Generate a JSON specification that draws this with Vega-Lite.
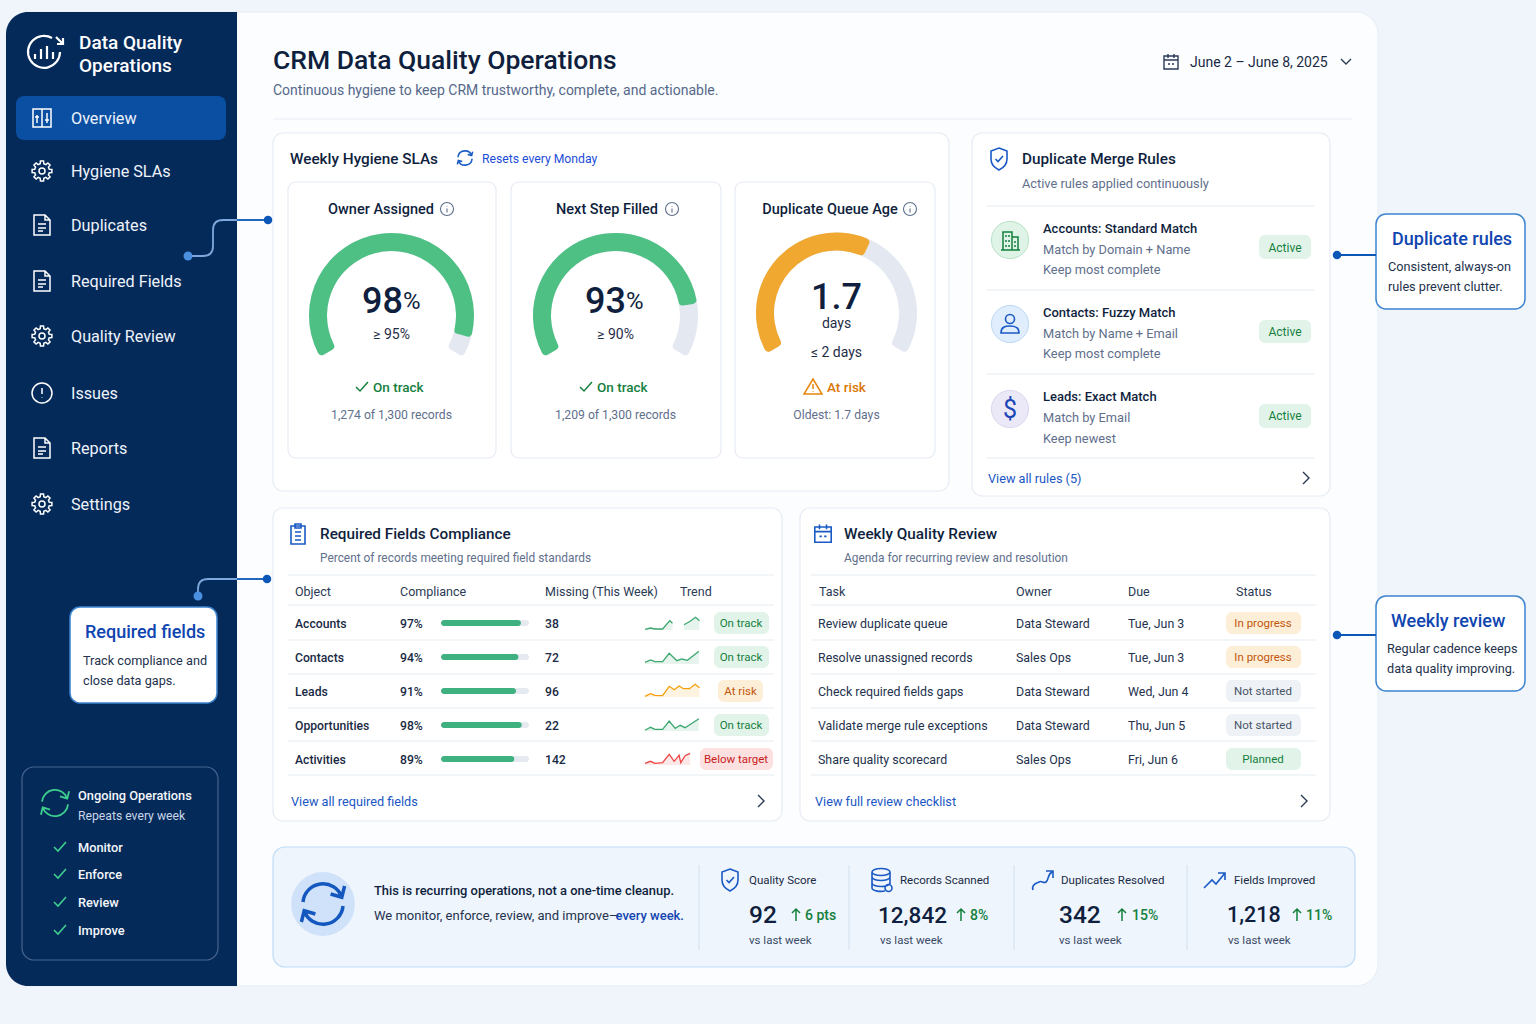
{
"$schema":"https://vega.github.io/schema/vega-lite/v6.json",
"width":1536,"height":1024,"padding":0,
"autosize":{"type":"fit","contains":"padding"},
"background":"#eff5fb",
"config":{"view":{"stroke":null},"text":{"font":"Roboto","align":"left","baseline":"middle","dy":1}},
"datasets":{
"trend":[
{"object":"Accounts","segment":"a","t":0,"v":0.7},{"object":"Accounts","segment":"a","t":10,"v":2},{"object":"Accounts","segment":"a","t":18,"v":1},{"object":"Accounts","segment":"a","t":32,"v":1},{"object":"Accounts","segment":"a","t":45,"v":9.3},{"object":"Accounts","segment":"a","t":50,"v":6.7},
{"object":"Accounts","segment":"b","t":71,"v":5.3},{"object":"Accounts","segment":"b","t":82,"v":8.7},{"object":"Accounts","segment":"b","t":92,"v":12.7},{"object":"Accounts","segment":"b","t":99,"v":9.3},
{"object":"Contacts","t":0,"v":1.7},{"object":"Contacts","t":10,"v":4},{"object":"Contacts","t":18,"v":2.3},{"object":"Contacts","t":32,"v":2.3},{"object":"Contacts","t":44,"v":10.7},{"object":"Contacts","t":58,"v":3.3},{"object":"Contacts","t":67,"v":5},{"object":"Contacts","t":77,"v":3.7},{"object":"Contacts","t":98,"v":12.7},
{"object":"Leads","t":0,"v":0.7},{"object":"Leads","t":10,"v":3.3},{"object":"Leads","t":18,"v":1.7},{"object":"Leads","t":32,"v":1.3},{"object":"Leads","t":44,"v":10.7},{"object":"Leads","t":53,"v":7.3},{"object":"Leads","t":62,"v":11},{"object":"Leads","t":70,"v":8.3},{"object":"Leads","t":81,"v":8.3},{"object":"Leads","t":91,"v":12.7},{"object":"Leads","t":99,"v":9.3},
{"object":"Opportunities","t":0,"v":0.7},{"object":"Opportunities","t":10,"v":3.7},{"object":"Opportunities","t":18,"v":1.7},{"object":"Opportunities","t":32,"v":1.7},{"object":"Opportunities","t":44,"v":10},{"object":"Opportunities","t":55,"v":2.7},{"object":"Opportunities","t":64,"v":5.7},{"object":"Opportunities","t":73,"v":3.3},{"object":"Opportunities","t":98,"v":12.3},
{"object":"Activities","t":0,"v":1.7},{"object":"Activities","t":10,"v":3.7},{"object":"Activities","t":18,"v":1.7},{"object":"Activities","t":32,"v":2.3},{"object":"Activities","t":44,"v":10.7},{"object":"Activities","t":53,"v":3.7},{"object":"Activities","t":62,"v":9.7},{"object":"Activities","t":65,"v":2.3},{"object":"Activities","t":73,"v":9.3},{"object":"Activities","t":82,"v":11.7}
]
},
"resolve":{"scale":{"x":"independent","y":"independent","theta":"independent"}},
"layer":[
{
"encoding":{
"x":{"field":"col","type":"quantitative","axis":null,"scale":{"type":"linear","nice":false,"zero":false,
"domain":[0,1,2,3,4,5,6,7,8,9,10,11,12,13,14,15,16,17,18,19,20,21,22,23,24,25,26,27,28,29,30,31,32,33,34,35,36,37,38,39,40,41,42,43,44,45,46,47,48,49,50,51,52,53,54,55,56,57,58,59,60,61,62,63,64,65,66,67,68,69,70,71,72,73,74,75,76,77,78,79,80,81,82,83,84,85,86,87,88,89,90,91,92,93,94,95,96,97,98,99,100,101,102,103,104,105,106,107,108,109,110,111,112,113,114,115,116,117,118,119,120,121,122,123,124,125,126,127,128,129,130,131,132,133,134,135,136,137],
"range":[6,237,1378,16,226,70,217,22,218,273,949,288,496,511,721,735,935,972,1330,782,800,1355,1376,1525,1352,987,1315,1259,1311,811,774,1316,441,529,714,769,718,763,700,773,1226,1301,699,849,1014,1187,79,71,85,83,78,290,482,381,607,830,403,626,391.5,615.5,836.5,373,597,827,1190,1022,1043,1285,988,320,295,400,545,680,741,291,844,819,1016,1128,1236,818,1263,815,374,1392,1388,1391,1387,749,805,878,970,880,900,1061,1059,1132,1234,1227,1306,1228,736,42,44,60,55,465,447,672,910,362,586,813,999,1010,1306,298,823,761,1304,323,730,881,1043,1215,796,961,1122,1297,1171,1346,1337,188,268,198,267,740.5]}},
"y":{"field":"row","type":"quantitative","axis":null,"scale":{"type":"linear","nice":false,"zero":false,
"domain":[0,1,2,3,4,5,6,7,8,9,10,11,12,13,14,15,16,17,18,19,20,21,22,23,24,25,26,27,28,29,30,31,32,33,34,35,36,37,38,39,40,41,42,43,44,45,46,47,48,49,50,51,52,53,54,55,56,57,58,59,60,61,62,63,64,65,66,67,68,69,70,71,72,73,74,75,76,77,78,79,80,81,82,83,84,85,86,87,88,89,90,91,92,93,94,95,96,97,98,99,100,101,102,103,104,105,106,107,108,109,110,111,112,113,114,115,116,117,118,119,120,121,122,123,124,125,126,127,128,129,130,131,132,133,134,135,136,137,138,139],
"range":[12,986,96,140,607,703,767,960,133,491,182,458,496,508,821,847,967,214,309,596,691,119,206,290,374,575,605,640,674,708,741,775,235,259,320,343,404,428,612,634,646,668,680,702,714,736,748,770,620,626,654,660,688,694,722,728,756,762,865,950,42,65,118,171,225,281,336,393,448,504,632,660,680,795,815,847,874,902,930,60,90,62,158,209,301,334,387,414,297,323,352,183,228,249,269,312,333,353,396,417,438,247,331,415,478,533,557,591,623,657,691,725,759,801,890,915,880,940,239,266,286,621,648,668,240,324,409,534,904,159,255,635,256,220,596,579,315.5,313,52,803]}}
},
"layer":[
{"encoding":{"x2":{"field":"col2"},"y2":{"field":"row2"}},"layer":[
{"data":{"values":[{"box":"panel","col":0,"col2":2,"row":0,"row2":1}]},"mark":{"type":"rect","fill":"#fbfdff","stroke":"#e6edf6","cornerRadius":22}},
{"data":{"values":[{"box":"sidebar","col":0,"col2":1,"row":0,"row2":1}]},"mark":{"type":"rect","fill":"#042a5a","cornerRadiusTopLeft":22,"cornerRadiusBottomLeft":22}},
{"data":{"values":[{"box":"nav active","col":3,"col2":4,"row":2,"row2":3}]},"mark":{"type":"rect","fill":"#0b4fa3","cornerRadius":8}},
{"data":{"values":[{"box":"ongoing","col":7,"col2":8,"row":6,"row2":7}]},"mark":{"type":"rect","fill":"#042a5a","stroke":"#46648d","strokeWidth":1.2,"cornerRadius":12}},
{"data":{"values":[{"box":"sla","col":9,"col2":10,"row":8,"row2":9},{"box":"rules","col":17,"col2":18,"row":8,"row2":12},{"box":"required","col":9,"col2":19,"row":13,"row2":14},{"box":"review","col":20,"col2":18,"row":13,"row2":14}]},"mark":{"type":"rect","fill":"#ffffff","stroke":"#e6ebf4","strokeWidth":1.2,"cornerRadius":10}},
{"data":{"values":[{"box":"owner","col":11,"col2":12,"row":10,"row2":11},{"box":"next","col":13,"col2":14,"row":10,"row2":11},{"box":"queue","col":15,"col2":16,"row":10,"row2":11}]},"mark":{"type":"rect","fill":"#ffffff","stroke":"#e6ebf4","strokeWidth":1.2,"cornerRadius":8}},
{"data":{"values":[{"box":"strip","col":9,"col2":21,"row":15,"row2":16}]},"mark":{"type":"rect","fill":"#eef5fd","stroke":"#bfdbf8","strokeWidth":1.2,"cornerRadius":12}},
{"data":{"values":[{"box":"required callout","col":5,"col2":6,"row":4,"row2":5},{"box":"rules callout","col":22,"col2":23,"row":17,"row2":18},{"box":"review callout","col":22,"col2":23,"row":19,"row2":20}]},"mark":{"type":"rect","fill":"#ffffff","stroke":"#3d84cf","strokeWidth":1.5,"cornerRadius":10}},
{"data":{"values":[{"col":27,"col2":28,"row":32,"row2":33},{"col":27,"col2":28,"row":34,"row2":35},{"col":27,"col2":28,"row":36,"row2":37},{"col":34,"col2":35,"row":38,"row2":39},{"col":34,"col2":35,"row":40,"row2":41},{"col":34,"col2":35,"row":44,"row2":45},{"col":40,"col2":41,"row":46,"row2":47}]},"mark":{"type":"rect","fill":"#e2f4ea","cornerRadius":6}},
{"data":{"values":[{"col":36,"col2":37,"row":42,"row2":43},{"col":40,"col2":41,"row":38,"row2":39},{"col":40,"col2":41,"row":40,"row2":41}]},"mark":{"type":"rect","fill":"#fdeed7","cornerRadius":6}},
{"data":{"values":[{"col":40,"col2":41,"row":42,"row2":43},{"col":40,"col2":41,"row":44,"row2":45}]},"mark":{"type":"rect","fill":"#eef1f5","cornerRadius":6}},
{"data":{"values":[{"col":38,"col2":39,"row":46,"row2":47}]},"mark":{"type":"rect","fill":"#fde0e0","cornerRadius":6}},
{"data":{"values":[{"col":32,"col2":33,"row":48,"row2":49},{"col":32,"col2":33,"row":50,"row2":51},{"col":32,"col2":33,"row":52,"row2":53},{"col":32,"col2":33,"row":54,"row2":55},{"col":32,"col2":33,"row":56,"row2":57}]},"mark":{"type":"rect","fill":"#e5e9f0","cornerRadius":3}}
]},
{"data":{"values":[{"col":9,"col2":24,"row":21},{"col":25,"col2":26,"row":22},{"col":25,"col2":26,"row":23},{"col":25,"col2":26,"row":24},{"col":25,"col2":26,"row":11},
{"col":11,"col2":30,"row":25},{"col":11,"col2":30,"row":26},{"col":11,"col2":30,"row":27},{"col":11,"col2":30,"row":28},{"col":11,"col2":30,"row":29},{"col":11,"col2":30,"row":30},{"col":11,"col2":30,"row":31},
{"col":29,"col2":31,"row":25},{"col":29,"col2":31,"row":26},{"col":29,"col2":31,"row":27},{"col":29,"col2":31,"row":28},{"col":29,"col2":31,"row":29},{"col":29,"col2":31,"row":30},{"col":29,"col2":31,"row":31}]},
"mark":{"type":"rule","color":"#e8edf3","strokeWidth":1.2},"encoding":{"x2":{"field":"col2"}}},
{"data":{"values":[{"col":42,"row":58,"row2":59},{"col":43,"row":58,"row2":59},{"col":44,"row":58,"row2":59},{"col":45,"row":58,"row2":59}]},"mark":{"type":"rule","color":"#d8e4f2","strokeWidth":1.2},"encoding":{"y2":{"field":"row2"}}},
{"data":{"values":[{"rule":"green","col":115,"row":124}]},"mark":{"type":"circle","size":1385,"opacity":1,"fill":"#dff3e6","stroke":"#b6e3c6","strokeWidth":1}},
{"data":{"values":[{"rule":"blue","col":115,"row":125}]},"mark":{"type":"circle","size":1385,"opacity":1,"fill":"#e0edfc","stroke":"#c0d8f5","strokeWidth":1}},
{"data":{"values":[{"rule":"violet","col":115,"row":126}]},"mark":{"type":"circle","size":1385,"opacity":1,"fill":"#ebe8f7","stroke":"#dcd7ef","strokeWidth":1}},
{"data":{"values":[{"col":121,"row":128}]},"mark":{"type":"circle","size":4072,"opacity":1,"fill":"#cfe2f9"}},
{
"encoding":{"shape":{"field":"icon","type":"nominal","legend":null,"scale":{
"domain":["gear","board","doc","alert","logo","cycle","check","info","warning","shield","building","user","chevron","down","calendar","clipboard","arrow","database","resolve","growth","link1","link2"],
"range":[
"M9.88 -1.56L9.88 1.56L7.28 1.81L6.43 3.86L8.09 5.88L5.88 8.09L3.86 6.43L1.81 7.28L1.56 9.88L-1.56 9.88L-1.81 7.28L-3.86 6.43L-5.88 8.09L-8.09 5.88L-6.43 3.86L-7.28 1.81L-9.88 1.56L-9.88 -1.56L-7.28 -1.81L-6.43 -3.86L-8.09 -5.88L-5.88 -8.09L-3.86 -6.43L-1.81 -7.28L-1.56 -9.88L1.56 -9.88L1.81 -7.28L3.86 -6.43L5.88 -8.09L8.09 -5.88L6.43 -3.86L7.28 -1.81ZM3 0A3 3 0 1 1 -3 0A3 3 0 1 1 3 0",
"M-9 -9H9V9H-9ZM0 -9V9M-5 -3V5M-7 -1H-3M5 -5V5M3 2H7",
"M-8 -10H3L8 -5V10H-8ZM3 -10V-5H8M-4 -1H4M-4 3H4M-4 6H1",
"M10 0A10 10 0 1 1 -10 0A10 10 0 1 1 10 0M0 -5V1M0 4.5V5",
"M8 -14A16 16 0 1 0 16 0M-9 7V2M-3 7V-3M3 7V-6M9 7V0M12 -15L19 -8M19 -14V-8H13",
"M-10 -1A10 10 0 0 1 9.4 -3.4M10.8 -9L9.4 -3.4L3.8 -5M10 1A10 10 0 0 1 -9.4 3.4M-10.8 9L-9.4 3.4L-3.8 5",
"M-6 0L-2 4L6 -5",
"M6.5 0A6.5 6.5 0 1 1 -6.5 0A6.5 6.5 0 1 1 6.5 0M0 -0.5V3.5M0 -3V-2.5",
"M0 -8L9 7H-9ZM0 -3V2M0 4.5V5",
"M0 -11L8 -8V0C8 6 4 9 0 11C-4 9 -8 6 -8 0V-8ZM-3.5 0L-1 2.5L4 -3",
"M-7 10V-8H2V10M2 -3H8V10M-9 10H10M-4 -5V-3M-1 -5V-3M-4 0V2M-1 0V2M-4 5V7M-1 5V7M5 1V3M5 5V7",
"M4.5 -5A4.5 4.5 0 1 1 -4.5 -5A4.5 4.5 0 1 1 4.5 -5M-9 9C-9 3 -5 2 0 2C5 2 9 3 9 9Z",
"M-3 -6L3 0L-3 6",
"M-5 -3L0 2L5 -3",
"M-7 -6H7V7H-7ZM-7 -2H7M-3 -8V-4M3 -8V-4M-3 2H-1M1 2H3",
"M-7 -8H7V10H-7ZM-3 -10H3V-6H-3ZM-3 -2H3M-3 2H3M-3 6H3",
"M0 6V-6M-4 -2L0 -6L4 -2",
"M-9 -8A9 3.5 0 1 1 9 -8A9 3.5 0 1 1 -9 -8M-9 -8V8A9 3.5 0 0 0 4 11M9 -8V4M-9 -3A9 3.5 0 0 0 9 -3M-9 3A9 3.5 0 0 0 9 3M11 8A3.5 3.5 0 1 1 4 8A3.5 3.5 0 1 1 11 8",
"M-10 10C-12 4 -6 3 -4 2C-1 0 0 4 3 2C6 0 4 -5 9 -8M3 -9H10V-2",
"M-11 8L-3 0L1 4L10 -7M3 -7H10V0",
"M0 0H15Q25 0 25 -10V-26Q25 -36 35 -36H49",
"M0 0V-7Q0 -17 10 -17H39"
]}}},
"layer":[
{"data":{"values":[{"icon":"board","col":103,"row":62},{"icon":"gear","col":103,"row":63},{"icon":"doc","col":103,"row":64},{"icon":"doc","col":103,"row":65},{"icon":"gear","col":103,"row":66},{"icon":"alert","col":103,"row":67},{"icon":"doc","col":103,"row":68},{"icon":"gear","col":103,"row":69}]},"mark":{"type":"point","filled":false,"opacity":1,"size":4,"color":"#ffffff","strokeWidth":1.5}},
{"data":{"values":[{"icon":"logo","col":104,"row":138}]},"mark":{"type":"point","filled":false,"opacity":1,"size":4,"color":"#ffffff","strokeWidth":2.2}},
{"data":{"values":[{"icon":"check","col":105,"row":75},{"icon":"check","col":105,"row":76},{"icon":"check","col":105,"row":77},{"icon":"check","col":105,"row":78}]},"mark":{"type":"point","filled":false,"opacity":1,"size":4,"color":"#3ecf8e","strokeWidth":1.6}},
{"data":{"values":[{"icon":"cycle","col":106,"row":139}]},"mark":{"type":"point","filled":false,"opacity":1,"size":6.8,"color":"#3ecf8e","strokeWidth":1.8}},
{"data":{"values":[{"icon":"cycle","col":107,"row":82}]},"mark":{"type":"point","filled":false,"opacity":1,"size":2,"color":"#1d5fc4","strokeWidth":1.6}},
{"data":{"values":[{"icon":"info","col":108,"row":83},{"icon":"info","col":109,"row":83},{"icon":"info","col":110,"row":83}]},"mark":{"type":"point","filled":false,"opacity":1,"size":4,"color":"#5f6f8c","strokeWidth":1.1}},
{"data":{"values":[{"icon":"check","col":111,"row":86},{"icon":"check","col":112,"row":86},{"icon":"building","col":115,"row":124},{"icon":"arrow","col":126,"row":115},{"icon":"arrow","col":127,"row":115},{"icon":"arrow","col":128,"row":115},{"icon":"arrow","col":129,"row":115}]},"mark":{"type":"point","filled":false,"opacity":1,"size":4,"color":"#15803d","strokeWidth":1.5}},
{"data":{"values":[{"icon":"warning","col":113,"row":86}]},"mark":{"type":"point","filled":false,"opacity":1,"size":4,"color":"#e8860c","strokeWidth":1.5}},
{"data":{"values":[{"icon":"shield","col":114,"row":129},{"icon":"shield","col":122,"row":116},{"icon":"user","col":115,"row":125},{"icon":"clipboard","col":117,"row":127},{"icon":"database","col":123,"row":116},{"icon":"resolve","col":124,"row":116},{"icon":"growth","col":125,"row":116}]},"mark":{"type":"point","filled":false,"opacity":1,"size":4,"color":"#1a5ac4","strokeWidth":1.6}},
{"data":{"values":[{"icon":"calendar","col":118,"row":127}]},"mark":{"type":"point","filled":false,"opacity":1,"size":5.5,"color":"#1a5ac4","strokeWidth":1.6}},
{"data":{"values":[{"icon":"chevron","col":116,"row":104},{"icon":"chevron","col":119,"row":113},{"icon":"chevron","col":120,"row":113},{"icon":"down","col":131,"row":81},{"icon":"calendar","col":130,"row":81}]},"mark":{"type":"point","filled":false,"opacity":1,"size":4,"color":"#2b3a55","strokeWidth":1.4}},
{"data":{"values":[{"icon":"cycle","col":121,"row":128}]},"mark":{"type":"point","filled":false,"opacity":1,"size":16,"color":"#1458bf","strokeWidth":3.5}},
{"data":{"values":[{"icon":"link1","col":133,"row":132},{"icon":"link2","col":135,"row":134}]},"mark":{"type":"point","filled":false,"opacity":1,"size":4,"color":"#7fa8dc","strokeWidth":1.8}}
]},
{"data":{"values":[{"col":1,"col2":134,"row":133},{"col":1,"col2":136,"row":135},{"col":132,"col2":22,"row":130},{"col":132,"col2":22,"row":131}]},"mark":{"type":"rule","color":"#0b57b8","strokeWidth":1.8},"encoding":{"x2":{"field":"col2"}}},
{"data":{"values":[{"col":133,"row":132},{"col":135,"row":134}]},"mark":{"type":"circle","size":80,"opacity":1,"color":"#4a8fe0"}},
{"data":{"values":[{"col":134,"row":133},{"col":136,"row":135},{"col":132,"row":130},{"col":132,"row":131}]},"mark":{"type":"circle","size":72,"opacity":1,"color":"#0b57b8"}},
{
"encoding":{"text":{"field":"t","type":"nominal"}},
"layer":[
{"data":{"values":[{"t":"Data Quality","col":46,"row":60},{"t":"Operations","col":46,"row":61}]},"mark":{"type":"text","fontSize":19,"fontWeight":500,"color":"#ffffff"}},
{"data":{"values":[{"t":"Overview","col":47,"row":62},{"t":"Hygiene SLAs","col":47,"row":63},{"t":"Duplicates","col":47,"row":64},{"t":"Required Fields","col":47,"row":65},{"t":"Quality Review","col":47,"row":66},{"t":"Issues","col":47,"row":67},{"t":"Reports","col":47,"row":68},{"t":"Settings","col":47,"row":69}]},"mark":{"type":"text","fontSize":16.2,"color":"#eef3fa"}},
{"data":{"values":[{"t":"Required fields","col":48,"row":70},{"t":"Duplicate rules","col":85,"row":118},{"t":"Weekly review","col":87,"row":121}]},"mark":{"type":"text","fontSize":18,"fontWeight":500,"color":"#0f45b0"}},
{"data":{"values":[{"t":"Track compliance and","col":49,"row":71},{"t":"close data gaps.","col":49,"row":72},{"t":"Consistent, always-on","col":86,"row":119},{"t":"rules prevent clutter.","col":86,"row":120},{"t":"Regular cadence keeps","col":88,"row":122},{"t":"data quality improving.","col":88,"row":123}]},"mark":{"type":"text","fontSize":12.7,"color":"#24324d"}},
{"data":{"values":[{"t":"Ongoing Operations","col":50,"row":73},{"t":"Monitor","col":50,"row":75},{"t":"Enforce","col":50,"row":76},{"t":"Review","col":50,"row":77},{"t":"Improve","col":50,"row":78}]},"mark":{"type":"text","fontSize":12.8,"fontWeight":500,"color":"#f4f7fb"}},
{"data":{"values":[{"t":"Repeats every week","col":50,"row":74}]},"mark":{"type":"text","fontSize":12.2,"color":"#c8d5e8"}},
{"data":{"values":[{"t":"CRM Data Quality Operations","col":9,"row":79}]},"mark":{"type":"text","fontSize":26.5,"fontWeight":500,"color":"#0f1f3d"}},
{"data":{"values":[{"t":"Continuous hygiene to keep CRM trustworthy, complete, and actionable.","col":9,"row":80}]},"mark":{"type":"text","fontSize":14,"color":"#56688a"}},
{"data":{"values":[{"t":"June 2 – June 8, 2025","col":64,"row":81}]},"mark":{"type":"text","fontSize":14,"color":"#1a2a44"}},
{"data":{"values":[{"t":"Weekly Hygiene SLAs","col":51,"row":82},{"t":"Duplicate Merge Rules","col":65,"row":82},{"t":"Required Fields Compliance","col":69,"row":105},{"t":"Weekly Quality Review","col":76,"row":105}]},"mark":{"type":"text","fontSize":15.3,"fontWeight":500,"color":"#0f1f3d"}},
{"data":{"values":[{"t":"Resets every Monday","col":52,"row":82}]},"mark":{"type":"text","fontSize":12.2,"color":"#1d4ed8"}},
{"data":{"values":[{"t":"Owner Assigned","col":53,"row":83},{"t":"Next Step Filled","col":54,"row":83},{"t":"Duplicate Queue Age","col":55,"row":83}]},"mark":{"type":"text","fontSize":14.5,"fontWeight":500,"align":"center","color":"#0f1f3d"}},
{"data":{"values":[{"t":"98","col":56,"row":84},{"t":"93","col":57,"row":84}]},"mark":{"type":"text","fontSize":36,"fontWeight":500,"align":"right","color":"#0f1f3d"}},
{"data":{"values":[{"t":"1.7","col":60,"row":88}]},"mark":{"type":"text","fontSize":36,"fontWeight":500,"align":"center","color":"#0f1f3d"}},
{"data":{"values":[{"t":"%","col":56,"row":84},{"t":"%","col":57,"row":84}]},"mark":{"type":"text","fontSize":24,"color":"#0f1f3d"}},
{"data":{"values":[{"t":"≥ 95%","col":58,"row":85},{"t":"≥ 90%","col":59,"row":85},{"t":"days","col":60,"row":89},{"t":"≤ 2 days","col":60,"row":90}]},"mark":{"type":"text","fontSize":14,"align":"center","color":"#1f2d48"}},
{"data":{"values":[{"t":"On track","col":61,"row":86},{"t":"On track","col":62,"row":86}]},"mark":{"type":"text","fontSize":13.5,"fontWeight":500,"color":"#15803d"}},
{"data":{"values":[{"t":"At risk","col":63,"row":86}]},"mark":{"type":"text","fontSize":13.5,"fontWeight":500,"color":"#d97706"}},
{"data":{"values":[{"t":"1,274 of 1,300 records","col":58,"row":87},{"t":"1,209 of 1,300 records","col":59,"row":87},{"t":"Oldest: 1.7 days","col":60,"row":87}]},"mark":{"type":"text","fontSize":12.2,"align":"center","color":"#5f6f8c"}},
{"data":{"values":[{"t":"Active rules applied continuously","col":65,"row":91},{"t":"Match by Domain + Name","col":66,"row":93},{"t":"Keep most complete","col":66,"row":94},{"t":"Match by Name + Email","col":66,"row":96},{"t":"Keep most complete","col":66,"row":97},{"t":"Match by Email","col":66,"row":99},{"t":"Keep newest","col":66,"row":100}]},"mark":{"type":"text","fontSize":12.8,"color":"#5f6f8c"}},
{"data":{"values":[{"t":"Percent of records meeting required field standards","col":69,"row":106},{"t":"Agenda for recurring review and resolution","col":76,"row":106}]},"mark":{"type":"text","fontSize":11.9,"color":"#5f6f8c"}},
{"data":{"values":[{"t":"Accounts: Standard Match","col":66,"row":92},{"t":"Contacts: Fuzzy Match","col":66,"row":95},{"t":"Leads: Exact Match","col":66,"row":98}]},"mark":{"type":"text","fontSize":13,"fontWeight":500,"color":"#0f1f3d"}},
{"data":{"values":[{"t":"Active","col":67,"row":101},{"t":"Active","col":67,"row":102},{"t":"Active","col":67,"row":103}]},"mark":{"type":"text","fontSize":12,"align":"center","color":"#15803d"}},
{"data":{"values":[{"t":"$","col":115,"row":126}]},"mark":{"type":"text","fontSize":25,"align":"center","color":"#1a46b8"}},
{"data":{"values":[{"t":"View all rules (5)","col":68,"row":104},{"t":"View all required fields","col":75,"row":113},{"t":"View full review checklist","col":83,"row":113}]},"mark":{"type":"text","fontSize":12.7,"color":"#1a56c4"}},
{"data":{"values":[{"t":"Object","col":70,"row":107},{"t":"Compliance","col":71,"row":107},{"t":"Missing (This Week)","col":72,"row":107},{"t":"Trend","col":73,"row":107},{"t":"Task","col":77,"row":107},{"t":"Owner","col":78,"row":107},{"t":"Due","col":79,"row":107},{"t":"Status","col":80,"row":107}]},"mark":{"type":"text","fontSize":12.5,"color":"#2b3a55"}},
{"data":{"values":[{"t":"Accounts","col":70,"row":108},{"t":"Contacts","col":70,"row":109},{"t":"Leads","col":70,"row":110},{"t":"Opportunities","col":70,"row":111},{"t":"Activities","col":70,"row":112},{"t":"97%","col":71,"row":108},{"t":"94%","col":71,"row":109},{"t":"91%","col":71,"row":110},{"t":"98%","col":71,"row":111},{"t":"89%","col":71,"row":112},{"t":"38","col":72,"row":108},{"t":"72","col":72,"row":109},{"t":"96","col":72,"row":110},{"t":"22","col":72,"row":111},{"t":"142","col":72,"row":112}]},"mark":{"type":"text","fontSize":12.2,"fontWeight":500,"color":"#1a2a44"}},
{"data":{"values":[{"t":"On track","col":74,"row":108},{"t":"On track","col":74,"row":109},{"t":"On track","col":74,"row":111},{"t":"Planned","col":82,"row":112}]},"mark":{"type":"text","fontSize":11.5,"align":"center","color":"#15803d"}},
{"data":{"values":[{"t":"At risk","col":137,"row":110},{"t":"In progress","col":82,"row":108},{"t":"In progress","col":82,"row":109}]},"mark":{"type":"text","fontSize":11.5,"align":"center","color":"#c2560c"}},
{"data":{"values":[{"t":"Not started","col":82,"row":110},{"t":"Not started","col":82,"row":111}]},"mark":{"type":"text","fontSize":11.5,"align":"center","color":"#475569"}},
{"data":{"values":[{"t":"Below target","col":102,"row":112}]},"mark":{"type":"text","fontSize":11.5,"align":"center","color":"#c81e1e"}},
{"data":{"values":[{"t":"Review duplicate queue","col":81,"row":108},{"t":"Resolve unassigned records","col":81,"row":109},{"t":"Check required fields gaps","col":81,"row":110},{"t":"Validate merge rule exceptions","col":81,"row":111},{"t":"Share quality scorecard","col":81,"row":112},{"t":"Data Steward","col":78,"row":108},{"t":"Sales Ops","col":78,"row":109},{"t":"Data Steward","col":78,"row":110},{"t":"Data Steward","col":78,"row":111},{"t":"Sales Ops","col":78,"row":112},{"t":"Tue, Jun 3","col":79,"row":108},{"t":"Tue, Jun 3","col":79,"row":109},{"t":"Wed, Jun 4","col":79,"row":110},{"t":"Thu, Jun 5","col":79,"row":111},{"t":"Fri, Jun 6","col":79,"row":112}]},"mark":{"type":"text","fontSize":12.4,"color":"#24324d"}},
{"data":{"values":[{"t":"This is recurring operations, not a one-time cleanup.","col":84,"row":114}]},"mark":{"type":"text","fontSize":12.9,"fontWeight":500,"color":"#0f1f3d"}},
{"data":{"values":[{"t":"We monitor, enforce, review, and improve—","col":84,"row":115}]},"mark":{"type":"text","fontSize":13,"color":"#24324d"}},
{"data":{"values":[{"t":"every week.","col":59,"row":115}]},"mark":{"type":"text","fontSize":13,"fontWeight":500,"color":"#1546b0"}},
{"data":{"values":[{"t":"Quality Score","col":89,"row":116},{"t":"Records Scanned","col":94,"row":116},{"t":"Duplicates Resolved","col":95,"row":116},{"t":"Fields Improved","col":98,"row":116}]},"mark":{"type":"text","fontSize":11.5,"color":"#1a2a44"}},
{"data":{"values":[{"t":"92","col":89,"row":115},{"t":"342","col":96,"row":115}]},"mark":{"type":"text","fontSize":24.5,"fontWeight":500,"color":"#0f1f3d"}},
{"data":{"values":[{"t":"12,842","col":91,"row":115}]},"mark":{"type":"text","fontSize":22.5,"fontWeight":500,"color":"#0f1f3d"}},
{"data":{"values":[{"t":"1,218","col":99,"row":115}]},"mark":{"type":"text","fontSize":21.5,"fontWeight":500,"color":"#0f1f3d"}},
{"data":{"values":[{"t":"6 pts","col":90,"row":115},{"t":"8%","col":92,"row":115},{"t":"15%","col":97,"row":115},{"t":"11%","col":100,"row":115}]},"mark":{"type":"text","fontSize":14,"fontWeight":500,"color":"#15803d"}},
{"data":{"values":[{"t":"vs last week","col":89,"row":117},{"t":"vs last week","col":93,"row":117},{"t":"vs last week","col":96,"row":117},{"t":"vs last week","col":101,"row":117}]},"mark":{"type":"text","fontSize":11.5,"color":"#3a4a66"}}
]}
]
},
{
"data":{"values":[{"metric":"Owner Assigned","floor":51,"value":98,"ceiling":101},{"metric":"Next Step Filled","floor":51,"value":93,"ceiling":101}]},
"encoding":{
"x":{"field":"metric","type":"nominal","axis":null,"scale":{"type":"point","padding":0,"domain":["Owner Assigned","Next Step Filled"],"range":[391.5,615.5]}},
"y":{"field":"metric","type":"nominal","axis":null,"scale":{"type":"point","padding":0,"domain":["Owner Assigned","Next Step Filled"],"range":[315.5,315.5]}},
"theta":{"field":"floor","type":"quantitative","stack":null,"scale":{"domain":[51,101],"range":[-2.094,2.094]}}
},
"layer":[
{"mark":{"type":"arc","radius":82.5,"radius2":64.5,"cornerRadius":4,"fill":"#e3e8f1"},"encoding":{"theta2":{"field":"ceiling"}}},
{"mark":{"type":"arc","radius":82.5,"radius2":64.5,"cornerRadius":4,"fill":"#4fc084"},"encoding":{"theta2":{"field":"value"}}}
]
},
{
"data":{"values":[{"metric":"Duplicate Queue Age","floor":0,"value":1.7,"ceiling":2.81}]},
"encoding":{
"x":{"field":"metric","type":"nominal","axis":null,"scale":{"type":"point","padding":0,"domain":["Duplicate Queue Age"],"range":[836.5,836.5]}},
"y":{"field":"metric","type":"nominal","axis":null,"scale":{"type":"point","padding":0,"domain":["Duplicate Queue Age"],"range":[313,313]}},
"theta":{"field":"floor","type":"quantitative","stack":null,"scale":{"domain":[0,2.81],"range":[-2.094,2.094]}}
},
"layer":[
{"mark":{"type":"arc","radius":80.5,"radius2":62.5,"cornerRadius":4,"fill":"#e3e8f1"},"encoding":{"theta2":{"field":"ceiling"}}},
{"mark":{"type":"arc","radius":80.5,"radius2":62.5,"cornerRadius":4,"fill":"#f0a830"},"encoding":{"theta2":{"field":"value"}}}
]
},
{
"data":{"values":[{"object":"Accounts","compliance":97},{"object":"Contacts","compliance":94},{"object":"Leads","compliance":91},{"object":"Opportunities","compliance":98},{"object":"Activities","compliance":89}]},
"mark":{"type":"bar","size":6,"cornerRadius":3,"color":"#3fb07f"},
"encoding":{
"x":{"field":"compliance","type":"quantitative","axis":null,"scale":{"domain":[0,100],"range":[441,523.5]}},
"y":{"field":"object","type":"nominal","axis":null,"scale":{"type":"point","padding":0,"domain":["Accounts","Contacts","Leads","Opportunities","Activities"],"range":[623,759]}}
}
},
{"data":{"name":"trend"},"transform":[{"filter":"datum.object=='Accounts'"}],"mark":{"type":"area","color":"#3aa86f","opacity":0.12,"line":{"color":"#3aa86f","strokeWidth":1.3,"opacity":1}},
"encoding":{"detail":{"field":"segment"},"x":{"field":"t","type":"quantitative","axis":null,"scale":{"domain":[0,100],"range":[645,700]}},"y":{"field":"v","type":"quantitative","axis":null,"stack":null,"scale":{"domain":[0,20],"range":[630,610]}}}},
{"data":{"name":"trend"},"transform":[{"filter":"datum.object=='Contacts'"}],"mark":{"type":"area","color":"#3aa86f","opacity":0.12,"line":{"color":"#3aa86f","strokeWidth":1.3,"opacity":1}},
"encoding":{"x":{"field":"t","type":"quantitative","axis":null,"scale":{"domain":[0,100],"range":[645,700]}},"y":{"field":"v","type":"quantitative","axis":null,"stack":null,"scale":{"domain":[0,20],"range":[664,644]}}}},
{"data":{"name":"trend"},"transform":[{"filter":"datum.object=='Leads'"}],"mark":{"type":"area","color":"#f59e0b","opacity":0.12,"line":{"color":"#f59e0b","strokeWidth":1.3,"opacity":1}},
"encoding":{"x":{"field":"t","type":"quantitative","axis":null,"scale":{"domain":[0,100],"range":[645,700]}},"y":{"field":"v","type":"quantitative","axis":null,"stack":null,"scale":{"domain":[0,20],"range":[697,677]}}}},
{"data":{"name":"trend"},"transform":[{"filter":"datum.object=='Opportunities'"}],"mark":{"type":"area","color":"#3aa86f","opacity":0.12,"line":{"color":"#3aa86f","strokeWidth":1.3,"opacity":1}},
"encoding":{"x":{"field":"t","type":"quantitative","axis":null,"scale":{"domain":[0,100],"range":[645,700]}},"y":{"field":"v","type":"quantitative","axis":null,"stack":null,"scale":{"domain":[0,20],"range":[731,711]}}}},
{"data":{"name":"trend"},"transform":[{"filter":"datum.object=='Activities'"}],"mark":{"type":"area","color":"#ef4444","opacity":0.12,"line":{"color":"#ef4444","strokeWidth":1.3,"opacity":1}},
"encoding":{"x":{"field":"t","type":"quantitative","axis":null,"scale":{"domain":[0,100],"range":[645,700]}},"y":{"field":"v","type":"quantitative","axis":null,"stack":null,"scale":{"domain":[0,20],"range":[765,745]}}}}
]
}
